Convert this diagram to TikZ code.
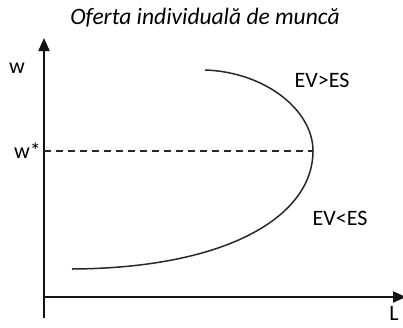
\documentclass[tikz,border=0pt]{standalone}
\usepackage{fontspec}
\setmainfont{Carlito}
\usetikzlibrary{positioning, arrows.meta}
\definecolor{AxisColor}{RGB}{20,20,20}
\definecolor{CurveColor}{RGB}{40,40,40}

\begin{document}
\begin{tikzpicture}[
    x=1pt, y=-1pt,
    every node/.style={font=\fontsize{22}{24}\selectfont, inner sep=0pt},
    axis/.style={line width=2pt, draw=AxisColor, -{Triangle[width=11pt,length=13pt]}},
    supply/.style={line width=1.5pt, draw=CurveColor},
    guide/.style={line width=1.5pt, draw=CurveColor, dash pattern=on 7pt off 5pt},
]
\useasboundingbox (0,0) rectangle (403,327);

% Title
\node[font=\fontsize{23.5}{25}\selectfont\itshape] (title) at (205,18) {Oferta individuală de muncă};

% Axes
\coordinate (origin) at (44,297);
\coordinate (ybot) at (44,318);
\coordinate (ytop) at (44,38);
\coordinate (xleft) at (44,297);
\coordinate (xright) at (406,297);
\draw[axis] (ybot) -- (ytop);
\draw[axis] (xleft) -- (xright);
\node (wlab) at (17,68) {w};
\node (llab) at (394,313) {L};

% Equilibrium wage
\node[anchor=east] (wstar) at (41,151) {w*};
\coordinate (peak) at (313,151);
\draw[guide] (44,151) -- (peak);

% Backward-bending supply curve
\coordinate (top) at (205,70);
\coordinate (low) at (72,269);
\draw[supply] (top) .. controls (265,72) and (313,110) .. (peak)
    .. controls (313,215) and (230,268) .. (low);

% Regimes
\node (upper) at (322,80) {EV>ES};
\node (lower) at (340,218) {EV<ES};

\end{tikzpicture}
\end{document}
